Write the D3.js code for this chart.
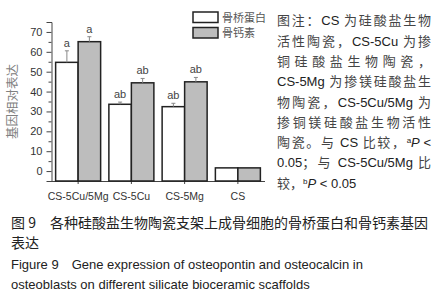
<!DOCTYPE html>
<html>
<head>
<meta charset="utf-8">
<script src="https://cdn.jsdelivr.net/npm/d3@7"></script>
<style>
  body { margin: 0; background: #fff; }
  svg { display: block; }
</style>
</head>
<body>
<div id="chart"></div>
<script>
// Data
const groups = ["CS-5Cu/5Mg", "CS-5Cu", "CS-5Mg", "CS"];
const seriesNames = ["骨桥蛋白", "骨钙素"];
const opnValues = [54.7, 33.6, 32.4, 1.6];
const opnErrors = [5.8, 1.1, 1.7, 0];
const ocnValues = [65.1, 44.4, 44.9, 1.6];
const ocnErrors = [2.5, 2.2, 2.2, 0];
const opnMarks = ["a", "ab", "ab", ""];
const ocnMarks = ["a", "ab", "ab", ""];
const yTicks = [0, 10, 20, 30, 40, 50, 60, 70];
const yMinorTicks = [5, 15, 25, 35, 45, 55, 65, 75];

const cjk = "'Noto Sans CJK SC', sans-serif";
const latin = "'Liberation Sans', Arial, sans-serif";

const W = 443, H = 300;
const svg = d3.select("#chart").append("svg")
    .attr("width", W)
    .attr("height", H);

// Scales
const x = d3.scaleBand()
    .domain(groups)
    .range([51.5, 264.5]);
const y = d3.scaleLinear()
    .domain([-5, 75])
    .range([181, 22]);

const barW = 22.5;
const fills = ["#ffffff", "#bdbdbd"];

// Y axis (major + minor ticks)
const yAxis = svg.append("g")
    .attr("transform", "translate(51.5,0)")
    .call(d3.axisLeft(y).tickValues(yTicks).tickSize(5).tickPadding(4));
yAxis.select(".domain").attr("stroke", "#444");
yAxis.selectAll(".tick line").attr("stroke", "#444");
yAxis.selectAll("text")
    .style("font-family", latin)
    .style("font-size", "11px")
    .attr("fill", "#333");

const yMinor = svg.append("g")
    .attr("transform", "translate(51.5,0)")
    .call(d3.axisLeft(y).tickValues(yMinorTicks).tickSize(3).tickFormat(""));
yMinor.select(".domain").remove();
yMinor.selectAll(".tick line").attr("stroke", "#444");

// X axis
const xAxis = svg.append("g")
    .attr("transform", `translate(0,${y(-5)})`)
    .call(d3.axisBottom(x).tickSize(3).tickSizeOuter(0));
xAxis.select(".domain").attr("stroke", "#444");
xAxis.selectAll(".tick line").attr("stroke", "#444");
xAxis.selectAll("text")
    .attr("y", 19)
    .attr("dy", 0)
    .style("font-family", latin)
    .style("font-size", "10.5px")
    .attr("fill", "#333");

// Y axis title
svg.append("text")
    .attr("transform", `translate(17,${y(35)}) rotate(-90)`)
    .attr("text-anchor", "middle")
    .style("font-family", cjk)
    .style("font-size", "12.5px")
    .attr("fill", "#808080")
    .text("基因相对表达");

// Bars
const barData = [];
groups.forEach((g, i) => {
    barData.push({ g: g, s: 0, v: opnValues[i], e: opnErrors[i], m: opnMarks[i] });
    barData.push({ g: g, s: 1, v: ocnValues[i], e: ocnErrors[i], m: ocnMarks[i] });
});
const bx = d => x(d.g) + x.bandwidth() / 2 - barW + d.s * barW;

svg.append("g")
    .selectAll("rect")
    .data(barData)
    .join("rect")
    .attr("x", d => bx(d))
    .attr("y", d => y(d.v))
    .attr("width", barW)
    .attr("height", d => y(-5) - y(d.v))
    .attr("fill", d => fills[d.s])
    .attr("stroke", "#222")
    .attr("stroke-width", 1.5);

// Error bars (upper half only)
const errs = svg.append("g").selectAll("g")
    .data(barData.filter(d => d.e > 0))
    .join("g");
errs.append("line")
    .attr("x1", d => bx(d) + barW / 2)
    .attr("x2", d => bx(d) + barW / 2)
    .attr("y1", d => y(d.v))
    .attr("y2", d => y(d.v + d.e))
    .attr("stroke", "#888");
errs.append("line")
    .attr("x1", d => bx(d) + barW / 2 - 2)
    .attr("x2", d => bx(d) + barW / 2 + 2)
    .attr("y1", d => y(d.v + d.e))
    .attr("y2", d => y(d.v + d.e))
    .attr("stroke", "#888");

// Significance letters
svg.append("g").selectAll("text")
    .data(barData.filter(d => d.m))
    .join("text")
    .attr("x", d => bx(d) + barW / 2)
    .attr("y", d => y(d.v + d.e) - 4)
    .attr("text-anchor", "middle")
    .style("font-family", latin)
    .style("font-size", "11px")
    .attr("fill", "#444")
    .text(d => d.m);

// Legend
const legend = svg.append("g").attr("transform", "translate(193,12)");
seriesNames.forEach((name, i) => {
    legend.append("rect")
        .attr("x", 0)
        .attr("y", i * 15.5)
        .attr("width", 25)
        .attr("height", 10.5)
        .attr("fill", fills[i])
        .attr("stroke", "#222")
        .attr("stroke-width", 1.5);
    legend.append("text")
        .attr("x", 29)
        .attr("y", i * 15.5 + 9.5)
        .style("font-family", cjk)
        .style("font-size", "11px")
        .attr("fill", "#555")
        .text(name);
});

// Notes on the right: lines justified by spreading the CJK characters only
const noteLines = [
    [["图注：", 0], ["CS", 1], [" 为硅酸盐生物", 0]],
    [["活性陶瓷，", 0], ["CS-5Cu", 1], [" 为掺", 0]],
    [["铜硅酸盐生物陶瓷，", 0]],
    [["CS-5Mg", 1], [" 为掺镁硅酸盐生", 0]],
    [["物陶瓷，", 0], ["CS-5Cu/5Mg", 1], [" 为", 0]],
    [["掺铜镁硅酸盐生物活性", 0]],
    [["陶瓷。与 ", 0], ["CS", 1], [" 比较，", 0], ["a", 2], ["P", 3], [" <", 1]],
    [["0.05", 1], ["；与 ", 0], ["CS-5Cu/5Mg", 1], [" 比", 0]],
    [["较，", 0], ["b", 2], ["P", 3], [" < 0.05", 1]]
];
const noteX = 277, noteW = 154;
const notes = svg.append("g");
noteLines.forEach((segs, i) => {
    const t = notes.append("text")
        .attr("x", noteX)
        .attr("y", 25.3 + i * 20.3)
        .style("font-size", "13px")
        .attr("fill", "#222");
    const cjkSpans = [];
    segs.forEach(([str, kind]) => {
        const s = t.append("tspan").text(str);
        if (kind === 0) { s.style("font-family", cjk).attr("fill", "#444"); cjkSpans.push(s); }
        else s.style("font-family", latin);
        if (kind === 2) s.style("font-size", "8px").attr("baseline-shift", "super");
        if (kind === 3) s.style("font-style", "italic");
    });
    if (i < noteLines.length - 1) {
        const natural = t.node().getComputedTextLength();
        let n = 0;
        cjkSpans.forEach(s => { n += s.text().length; });
        const last = segs[segs.length - 1][1] === 0 ? 1 : 0;
        const ls = Math.max(0, (noteW - natural) / Math.max(1, n - last));
        cjkSpans.forEach(s => s.style("letter-spacing", ls + "px"));
    }
});

// Caption
const cap = [
    ["图 9\u3000各种硅酸盐生物陶瓷支架上成骨细胞的骨桥蛋白和骨钙素基因", cjk, 14],
    ["表达", cjk, 14],
    ["Figure 9\u2003Gene expression of osteopontin and osteocalcin in", latin, 13],
    ["osteoblasts on different silicate bioceramic scaffolds", latin, 13]
];
svg.append("g").selectAll("text")
    .data(cap)
    .join("text")
    .attr("x", 11)
    .attr("y", (d, i) => 228 + i * 20.3)
    .style("font-family", d => d[1])
    .style("font-size", d => d[2] + "px")
    .attr("fill", "#222")
    .text(d => d[0]);
</script>
</body>
</html>
